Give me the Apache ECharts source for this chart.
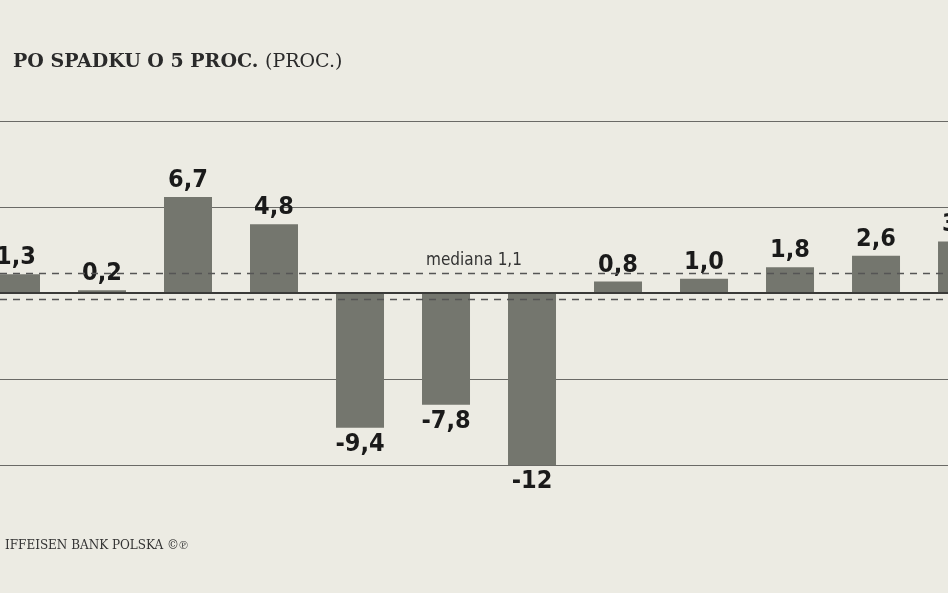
<!DOCTYPE html>
<html><head><meta charset="utf-8">
<script src="https://cdn.jsdelivr.net/npm/echarts@6/dist/echarts.min.js"></script>
<style>html,body{margin:0;background:#ecebe3}#c{width:948px;height:593px}</style>
</head><body><div id="c"></div>
<script>
var categories=[0,1,2,3,4,5,6,7,8,9,10,11];
var values=[1.3,0.2,6.7,4.8,-9.4,-7.8,-12,0.8,1.0,1.8,2.6,3.6];
var labels=['1,3','0,2','6,7','4,8','-9,4','-7,8','-12','0,8','1,0','1,8','2,6','3,6'];
var yTicks=[-12,-6,0,6,12];
var median=1.4, medianLabel='mediana 1,1', lowerDash=-0.45;
var chart=echarts.init(document.getElementById('c'));
chart.setOption({
  backgroundColor:'#ecebe3',animation:false,
  title:[{text:'PO SPADKU O 5 PROC. {n|(PROC.)}',left:8,top:48,textStyle:{fontFamily:'DejaVu Serif',fontWeight:'bold',fontSize:19,color:'#2a2a2a',rich:{n:{fontFamily:'DejaVu Serif',fontWeight:'normal',fontSize:19,color:'#2a2a2a'}}}},
    {text:'IFFEISEN BANK POLSKA ©℗',left:0,top:535,textStyle:{fontFamily:'DejaVu Serif',fontWeight:'normal',fontSize:12,color:'#333'}}],
  grid:{left:0,right:0,top:121,bottom:128},
  xAxis:{type:'value',min:-0.186,max:10.837,axisLine:{show:false},axisTick:{show:false},axisLabel:{show:false},splitLine:{show:false}},
  yAxis:{type:'value',min:-12,max:12,interval:6,axisLabel:{show:false},axisLine:{show:false},axisTick:{show:false},
    splitLine:{lineStyle:{color:'#6a6a66',width:1.2}}},
  series:[{type:'bar',clip:true,data:values.map(function(v,i){return {value:[categories[i],v],label:{position:v>=0?'top':'bottom',formatter:labels[i]}};}),
    barWidth:48,itemStyle:{color:'#74766e'},
    label:{show:true,fontFamily:'DejaVu Sans Condensed',fontWeight:'bold',fontSize:25,color:'#1a1a1a',distance:4},
    markLine:{symbol:'none',silent:true,label:{show:false},
      data:[{yAxis:0,lineStyle:{type:'solid',color:'#3a3a38',width:2}},
        {yAxis:median,lineStyle:{type:[7,6],color:'#555',width:1.3},label:{show:true,position:'insideMiddleTop',formatter:medianLabel,fontFamily:'DejaVu Sans Condensed',fontSize:17,color:'#333',distance:4}},
        {yAxis:lowerDash,lineStyle:{type:[7,6],color:'#555',width:1.3}}]}}]
});
</script></body></html>
